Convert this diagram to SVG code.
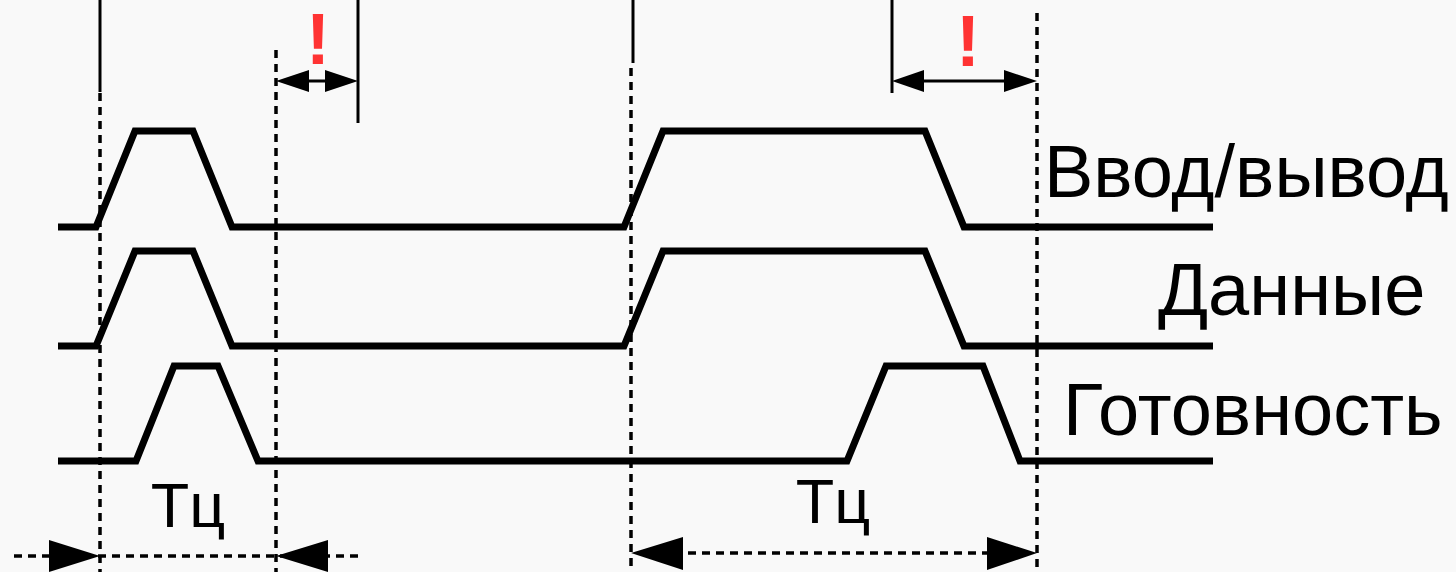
<svg xmlns="http://www.w3.org/2000/svg" width="1456" height="572" viewBox="0 0 1456 572">
<style>
.sig{fill:none;stroke:#000;stroke-width:7;stroke-linejoin:miter}
.solid{stroke:#000;stroke-width:3}
.dash{stroke:#000;stroke-width:3.5;stroke-dasharray:8 6}
.dim{stroke:#000;stroke-width:3}
.lbl{font-family:"Liberation Sans",Arial,sans-serif;font-size:74px;fill:#000}
.tc{font-family:"Liberation Sans",Arial,sans-serif;font-size:63px;fill:#000;text-anchor:middle}
.ex{font-family:"Liberation Sans",Arial,sans-serif;font-size:72px;font-weight:bold;fill:#ff3333;text-anchor:middle}
.head{fill:#000}
</style>
<rect width="1456" height="572" fill="#f9f9f9"/>
<g id="guides">
<line class="solid" x1="100" y1="0" x2="100" y2="92"/>
<line class="solid" x1="358" y1="0" x2="358" y2="123"/>
<line class="solid" x1="633" y1="0" x2="633" y2="63"/>
<line class="solid" x1="892" y1="0" x2="892" y2="93"/>
<line class="dash" x1="100" y1="93" x2="100" y2="572"/>
<line class="dash" x1="276" y1="50" x2="276" y2="572"/>
<line class="dash" x1="631" y1="68" x2="631" y2="572"/>
<line class="dash" x1="1037" y1="13" x2="1037" y2="572"/>
</g>
<g id="signal-io">
<polyline class="sig" points="58,227 96,227 135,131 193,131 232,227 624,227 663,131 925,131 964,227 1213,227"/>
<text class="lbl" x="1044" y="197">Ввод/вывод</text>
</g>
<g id="signal-data">
<polyline class="sig" points="58,346 96,346 135,251 193,251 232,346 624,346 663,251 925,251 964,346 1213,346"/>
<text class="lbl" x="1158" y="315">Данные</text>
</g>
<g id="signal-ready">
<polyline class="sig" points="58,461 136,461 174,366 218,366 258,461 847,461 886,366 983,366 1020,461 1213,461"/>
<text class="lbl" x="1063" y="435">Готовность</text>
</g>
<g id="connectors">
<line class="dim" x1="300" y1="81" x2="330" y2="81"/>
<polygon class="head" points="276,81 309,70 309,92"/>
<polygon class="head" points="358,81 325,70 325,92"/>
<line class="dim" x1="915" y1="81" x2="1010" y2="81"/>
<polygon class="head" points="892,81 924,70 924,92"/>
<polygon class="head" points="1037,81 1004,70 1004,92"/>
<line class="dash" x1="14" y1="556" x2="363" y2="556"/>
<polygon class="head" points="100,556 49,540 49,572"/>
<polygon class="head" points="276,556 328,540 328,572"/>
<line class="dash" x1="660" y1="553" x2="1000" y2="553"/>
<polygon class="head" points="631,553 683,537 683,570"/>
<polygon class="head" points="1037,553 987,537 987,570"/>
</g>
<g id="labels">
<text class="ex" x="318" y="64">!</text>
<text class="ex" x="968" y="66">!</text>
<text class="tc" x="188" y="527">Тц</text>
<text class="tc" x="833" y="523">Тц</text>
</g>
</svg>
